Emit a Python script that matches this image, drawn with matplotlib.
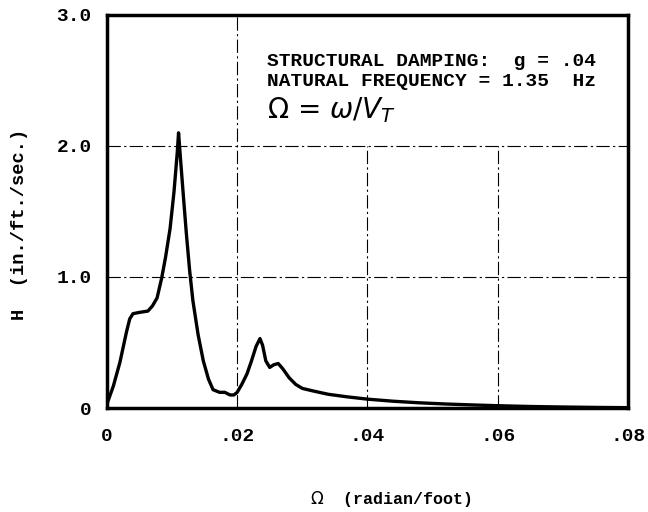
import matplotlib.pyplot as plt

# curve
omega = [0.0, 0.001, 0.002, 0.003, 0.0035, 0.004, 0.005, 0.0063, 0.007, 0.0077,
         0.0084, 0.009, 0.0097, 0.0103, 0.0108, 0.011, 0.0113, 0.0118, 0.0122,
         0.0127, 0.0132, 0.014, 0.0148, 0.0156, 0.0163, 0.0173, 0.0181, 0.0189,
         0.0195, 0.02, 0.0207, 0.0215, 0.0222, 0.0229, 0.0235, 0.0239, 0.0244,
         0.025, 0.0256, 0.0263, 0.027, 0.028, 0.029, 0.030, 0.0317, 0.034, 0.037,
         0.040, 0.044, 0.048, 0.052, 0.056, 0.060, 0.065, 0.070, 0.075, 0.080]
H = [0.03, 0.17, 0.35, 0.58, 0.68, 0.72, 0.73, 0.74, 0.78, 0.84,
     0.99, 1.15, 1.37, 1.65, 1.95, 2.1, 1.9, 1.58, 1.33,
     1.05, 0.82, 0.56, 0.36, 0.22, 0.14, 0.12, 0.12, 0.10,
     0.10, 0.12, 0.18, 0.26, 0.36, 0.47, 0.53, 0.48, 0.36,
     0.31, 0.33, 0.34, 0.30, 0.23, 0.18, 0.15, 0.13, 0.105, 0.085,
     0.068, 0.052, 0.04, 0.031, 0.024, 0.018, 0.012, 0.008, 0.005, 0.003]

x_ticks = [0, 0.02, 0.04, 0.06, 0.08]
x_labels = ['0', '.02', '.04', '.06', '.08']
y_ticks = [0, 1.0, 2.0, 3.0]
y_labels = ['0', '1.0', '2.0', '3.0']

mono = 'Liberation Mono'
dashdot = (0, (12, 3, 2, 3))

fig = plt.figure(figsize=(6.48, 5.12), dpi=100)
ax = fig.add_axes([0.165, 0.203, 0.804, 0.768])

ax.plot(omega, H, color='black', linewidth=2.4, solid_capstyle='round', zorder=3)

ax.set_xlim(0, 0.08)
ax.set_ylim(0, 3.0)
ax.set_xticks(x_ticks)
ax.set_xticklabels(x_labels, fontfamily=mono, fontweight='bold', fontsize=14)
ax.set_yticks(y_ticks)
ax.set_yticklabels(y_labels, fontfamily=mono, fontweight='bold', fontsize=14)
ax.tick_params(axis='x', length=0, pad=14)
ax.tick_params(axis='y', length=0, pad=11)

# grid: lines right of .02 stop under the note block
for gx in x_ticks[1:-1]:
    top = 1.0 if gx == x_ticks[1] else y_ticks[2] / y_ticks[-1]
    ax.axvline(gx, ymax=top, color='black', linewidth=0.8, linestyle=dashdot)
for gy in y_ticks[1:-1]:
    ax.axhline(gy, color='black', linewidth=0.8, linestyle=dashdot)

for sp in ax.spines.values():
    sp.set_linewidth(2.5)

ax.text(0.0246, 2.645, 'STRUCTURAL DAMPING:  g = .04', fontfamily=mono,
        fontweight='bold', fontsize=14, va='center')
ax.text(0.0246, 2.49, 'NATURAL FREQUENCY = 1.35  Hz', fontfamily=mono,
        fontweight='bold', fontsize=14, va='center')
ax.text(0.0246, 2.27, r'$\Omega$ = $\omega/V_T$', fontsize=20, va='center')

ax.set_xlabel(r'$\Omega$  (radian/foot)', fontfamily=mono, fontweight='bold',
              fontsize=12)
ax.xaxis.set_label_coords(0.545, -0.205)
ax.set_ylabel('H  (in./ft./sec.)', fontfamily=mono, fontweight='bold',
              fontsize=13.5)
ax.yaxis.set_label_coords(-0.152, 0.466)

fig.savefig('out.png', dpi=100)
